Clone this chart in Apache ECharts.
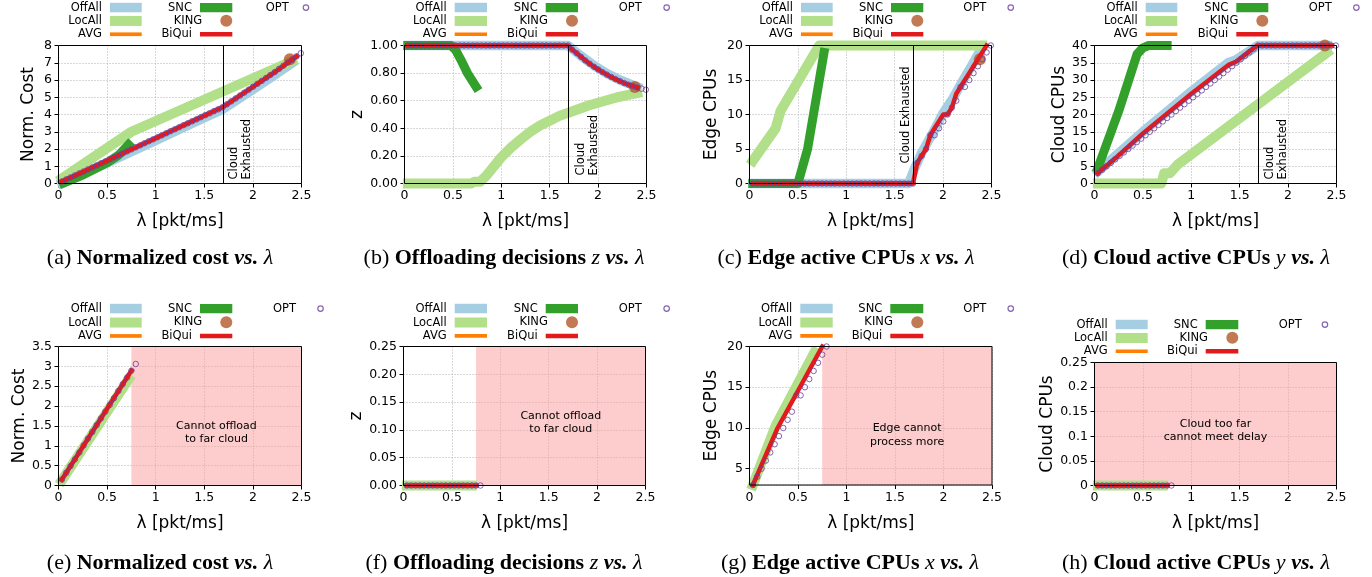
<!DOCTYPE html>
<html><head><meta charset="utf-8">
<script src="https://cdn.jsdelivr.net/npm/echarts@6/dist/echarts.min.js"></script>
<style>html,body{margin:0;padding:0;background:#fff}#c{width:1372px;height:577px}</style>
</head><body><div id="c"></div>
<script>
// ---------- data ----------
const lam = [0.035,0.080,0.124,0.169,0.214,0.259,0.303,0.348,0.393,0.437,
0.482,0.527,0.571,0.616,0.661,0.706,0.750,0.795,0.840,0.884,
0.929,0.974,1.018,1.063,1.108,1.152,1.197,1.242,1.287,1.331,
1.376,1.421,1.465,1.510,1.555,1.599,1.644,1.689,1.733,1.778,
1.823,1.868,1.912,1.957,2.002,2.046,2.091,2.136,2.180,2.225,
2.270,2.314,2.359,2.404,2.449,2.493];
const cloudExhausted = 1.689;

// (a) normalized cost
const a_opt = [0.12,0.24,0.35,0.47,0.59,0.70,0.82,0.93,1.05,1.17,1.28,1.40,1.51,1.63,1.75,1.86,1.98,2.10,2.21,2.33,
2.45,2.56,2.68,2.79,2.91,3.03,3.14,3.26,3.38,3.49,3.61,3.72,3.84,3.96,4.07,4.19,4.30,4.42,4.59,4.76,
4.93,5.10,5.27,5.44,5.61,5.78,5.95,6.12,6.29,6.46,6.65,6.83,7.01,7.19,7.37,7.55];
const a_biqui = [[0.035,0.12],[1.689,4.42],[2.225,6.46],[2.449,7.37]];
const a_offall = [[0.035,0.02],[0.5,1.2],[1.0,2.5],[1.5,3.82],[1.689,4.3],[2.0,5.45],[2.2,6.2],[2.404,6.98]];
const a_locall = [[0.035,0.3],[0.75,3.0],[2.404,7.1]];
const a_snc = [[0.05,0.02],[0.26,0.52],[0.5,1.2],[0.62,1.65],[0.72,2.25]];
const a_king = [[2.38,7.2]];

// (b) offloading decisions z
const b_opt = [1,1,1,1,1,1,1,1,1,1,1,1,1,1,1,1,1,1,1,1,1,1,1,1,1,1,1,1,1,1,1,1,1,1,1,1,1,1,
0.97,0.945,0.918,0.892,0.868,0.846,0.826,0.807,0.789,0.772,0.756,0.742,0.728,0.716,0.705,0.695,0.687,0.68];
const b_biqui = [[0.035,1],[1.689,1],[1.733,0.97],[1.778,0.945],[1.823,0.918],[1.868,0.892],[1.912,0.868],[1.957,0.846],
[2.002,0.826],[2.046,0.807],[2.091,0.789],[2.136,0.772],[2.18,0.756],[2.225,0.742],[2.27,0.728],[2.314,0.716],[2.359,0.705],[2.404,0.695]];
const b_offall = [[0.035,1],[1.689,1],[1.823,0.925],[1.957,0.855],[2.091,0.797],[2.225,0.75],[2.404,0.70]];
const b_locall = [[0.035,0],[0.69,0],[0.72,0.012],[0.78,0.012],[0.85,0.06],[0.93,0.13],[1.0,0.19],[1.1,0.26],[1.2,0.32],
[1.3,0.375],[1.4,0.42],[1.5,0.455],[1.6,0.49],[1.7,0.515],[1.8,0.54],[1.9,0.565],[2.0,0.585],[2.1,0.605],[2.2,0.625],[2.3,0.64],[2.404,0.655]];
const b_snc = [[0.035,1],[0.48,1],[0.53,0.965],[0.58,0.9],[0.65,0.8],[0.74,0.7]];
const b_king = [[2.38,0.70]];

// (c) edge active CPUs x
const c_opt = [0,0,0,0,0,0,0,0,0,0,0,0,0,0,0,0,0,0,0,0,0,0,0,0,0,0,0,0,0,0,0,0,0,0,0,0,0,0,
3,4,5,7,7,8,9,10,11,12,14,14,15,16,17,18,19,20];
const c_biqui = [[0.035,0],[1.689,0],[1.733,3],[1.778,4],[1.823,5],[1.868,7],[1.912,8],[1.957,9],[2.002,10],[2.046,10],
[2.091,11],[2.136,13],[2.18,14],[2.225,15],[2.27,16],[2.314,17],[2.359,18],[2.404,19],[2.449,20]];
const c_offall = [[0.035,0],[1.644,0],[1.70,2],[1.78,4.5],[1.9,7.5],[2.0,10.2],[2.1,12.3],[2.2,14.8],[2.3,17.2],[2.404,19.8]];
const c_locall = [[0.035,3.3],[0.27,8.0],[0.32,10.5],[0.72,20],[2.404,20]];
const c_snc = [[0.035,0],[0.5,0],[0.6,5],[0.77,19]];
const c_king = [[2.38,18]];

// (d) cloud active CPUs y
const d_opt = [3,4,5,6,7,8,9,10,11,12,13,14,15,16,17,18,19,20,21,22,23,24,25,26,27,28,29,30,31,32,33,34,35,36,37,38,39,40,
40,40,40,40,40,40,40,40,40,40,40,40,40,40,40,40,40,40];
const d_biqui = [[0.035,3],[0.214,7.3],[0.5,14.5],[1.0,26],[1.38,34.3],[1.46,35.3],[1.66,39.6],[1.689,40],[2.449,40]];
const d_offall = [[0.035,3.5],[0.5,15],[1.0,26.7],[1.38,35],[1.46,35.8],[1.689,40],[2.404,40]];
const d_locall = [[0.035,0],[0.69,0],[0.72,3],[0.78,3],[0.86,5.5],[2.404,38]];
const d_snc = [[0.035,4.5],[0.25,21],[0.44,37.5],[0.5,39.3],[0.56,40],[0.75,40]];
const d_king = [[2.38,40]];

// (e) normalized cost, far cloud
const e_opt = [0.15,0.32,0.49,0.66,0.83,1.01,1.18,1.35,1.52,1.69,1.86,2.03,2.20,2.38,2.55,2.72,2.89,3.06];
const e_biqui = [[0.035,0.15],[0.75,2.89]];
const e_locall = [[0.035,0.13],[0.72,2.67]];

// (f) z, far cloud
const f_opt = [0,0,0,0,0,0,0,0,0,0,0,0,0,0,0,0,0,0];
const f_biqui = [[0.035,0],[0.75,0]];
const f_locall = [[0.035,0],[0.706,0]];

// (g) edge CPUs, far cloud
const g_opt = [3,4,5,6,7,8,9,10,11,12,14,14,15,16,17,18,19,20];
const g_biqui = [[0.035,3],[0.29,10],[0.75,20]];
const g_locall = [[0.035,3],[0.27,10.3],[0.67,19.3]];

// (h) cloud CPUs, far cloud
const h_opt = [0,0,0,0,0,0,0,0,0,0,0,0,0,0,0,0,0,0];
const h_biqui = [[0.035,0],[0.75,0]];
const h_locall = [[0.035,0],[0.706,0]];

const seriesNames = ['OffAll','LocAll','AVG','SNC','KING','BiQui','OPT'];

// ---------- styling ----------
const FONT = 'DejaVu Sans';
const COL = {OffAll:'#a6cee3', LocAll:'#b2df8a', AVG:'#ff7f00', SNC:'#33a02c', KING:'#b15928', BiQui:'#e31a1c', OPT:'#6a3d9a'};
const LW = {OffAll:9.5, LocAll:10, AVG:3.5, SNC:9, BiQui:4.5};
const ZS = {OffAll:2, LocAll:2, AVG:2, SNC:2, KING:3, BiQui:4, OPT:5};

const panels = [
 {grid:{left:58.5,top:45.5,width:243,height:138}, y:{min:0,max:8,interval:1}, yname:'Norm. Cost', ygap:21,
  d:{offall:a_offall, locall:a_locall, snc:a_snc, king:a_king, biqui:a_biqui, opt:a_opt},
  vline:{pos:'insideStartBottom', text:'Cloud\nExhausted', dist:[4,5]},
  leg:{rows:[7.3,20.7,34], c1:[110,141.7], c2:[200,232.3], o:[282.7,300]},
  cap:{x:160,y:258,l:'(a)',t:'Normalized cost ',v:''}},
 {grid:{left:404.5,top:45.5,width:242,height:138}, y:{min:0,max:1,interval:0.2,fmt:2}, yname:'z', ygap:34.5,
  d:{offall:b_offall, locall:b_locall, snc:b_snc, king:b_king, biqui:b_biqui, opt:b_opt},
  vline:{pos:'insideStartBottom', text:'Cloud\nExhausted', dist:[8,6]},
  leg:{rows:[7.3,20.7,34], c1:[454.7,487], c2:[545.7,578], o:[628,653]},
  cap:{x:504,y:258,l:'(b)',t:'Offloading decisions ',v:'z'}},
 {grid:{left:749.5,top:45.5,width:242,height:138}, y:{min:0,max:20,interval:5}, yname:'Edge CPUs', ygap:29.5,
  d:{offall:c_offall, locall:c_locall, snc:c_snc, king:c_king, biqui:c_biqui, opt:c_opt},
  vline:{pos:'insideStartTop', text:'Cloud Exhausted', dist:[20,1]},
  leg:{rows:[7.3,20.7,34], c1:[801,832.7], c2:[891,923.3], o:[973.3,997.7]},
  cap:{x:846,y:258,l:'(c)',t:'Edge active CPUs ',v:'x'}},
 {grid:{left:1094.5,top:45.5,width:242,height:138}, y:{min:0,max:40,interval:5}, yname:'Cloud CPUs', ygap:26.5,
  d:{offall:d_offall, locall:d_locall, snc:d_snc, king:d_king, biqui:d_biqui, opt:d_opt},
  vline:{pos:'insideStartBottom', text:'Cloud\nExhausted', dist:[4,5.5]},
  leg:{rows:[7.3,20.7,34], c1:[1145.7,1177.3], c2:[1236.3,1268.3], o:[1318.3,1343]},
  cap:{x:1196,y:258,l:'(d)',t:'Cloud active CPUs ',v:'y'}},
 {grid:{left:58.5,top:346.5,width:243,height:139}, y:{min:0,max:3.5,interval:0.5}, yname:'Norm. Cost', ygap:29.5,
  d:{locall:e_locall, biqui:e_biqui, opt:e_opt},
  area:{from:0.75, text:'Cannot offload\nto far cloud', pos:['50%','62%']},
  leg:{rows:[308.3,322.3,335.7], c1:[110,141.7], c2:[200,232.3], o:[282.7,307.3]},
  cap:{x:160,y:563,l:'(e)',t:'Normalized cost ',v:''}},
 {grid:{left:403.5,top:346.5,width:242,height:139}, y:{min:0,max:0.25,interval:0.05,fmt:2}, yname:'z', ygap:34.5,
  d:{locall:f_locall, biqui:f_biqui, opt:f_opt},
  area:{from:0.75, text:'Cannot offload\nto far cloud', pos:['50%','55%']},
  leg:{rows:[308.3,322.3,335.7], c1:[454.7,487], c2:[545.7,578], o:[628,653]},
  cap:{x:504,y:563,l:'(f)',t:'Offloading decisions ',v:'z'}},
 {grid:{left:749.5,top:346.5,width:242.5,height:138.5}, y:{min:3,max:20,splitNumber:4,hideMin:true}, yname:'Edge CPUs', ygap:29.5,
  d:{locall:g_locall, biqui:g_biqui, opt:g_opt},
  area:{from:0.75, text:'Edge cannot\nprocess more', pos:['50%','64%']},
  leg:{rows:[308.3,322.3,335.7], c1:[800.3,832.7], c2:[890.3,923.3], o:[973.3,997.7]},
  cap:{x:850,y:563,l:'(g)',t:'Edge active CPUs ',v:'x'}},
 {grid:{left:1094.5,top:362.5,width:242,height:123}, y:{min:0,max:0.25,interval:0.05}, yname:'Cloud CPUs', ygap:35,
  d:{locall:h_locall, biqui:h_biqui, opt:h_opt},
  area:{from:0, text:'Cloud too far\ncannot meet delay', pos:['50%','55.5%']},
  leg:{rows:[324.3,337.7,351], c1:[1115.7,1147.7], c2:[1205.7,1238.3], o:[1289.7,1313]},
  cap:{x:1196,y:563,l:'(h)',t:'Cloud active CPUs ',v:'y'}}
];

const grids=[], xAxes=[], yAxes=[], series=[], legends=[], graphics=[];
const W = 1372;

panels.forEach((p, gi) => {
  grids.push(Object.assign({show:true, borderColor:'#000', borderWidth:1, backgroundColor:'rgba(0,0,0,0)', z:10, containLabel:false}, p.grid));
  const split = {show:true, lineStyle:{color:'#b0b0b0', width:1, type:[1,2]}};
  xAxes.push({type:'value', gridIndex:gi, min:0, max:2.5, interval:0.5,
    axisLine:{show:false}, axisTick:{show:true, length:4, lineStyle:{color:'#000'}},
    axisLabel:{margin:6, fontSize:12.5, fontFamily:FONT, color:'#000'},
    splitLine:split, name:'λ [pkt/ms]', nameLocation:'middle', nameGap:30,
    nameTextStyle:{fontSize:17, fontFamily:FONT, color:'#000'}});
  const ya = {type:'value', gridIndex:gi, min:p.y.min, max:p.y.max,
    axisLine:{show:false}, axisTick:{show:true, length:4, lineStyle:{color:'#000'}},
    axisLabel:{margin:6.5, fontSize:12.5, fontFamily:FONT, color:'#000'},
    splitLine:split, name:p.yname, nameLocation:'middle', nameGap:p.ygap, nameRotate:90,
    nameTextStyle:{fontSize:17, fontFamily:FONT, color:'#000'}};
  if (p.y.interval) ya.interval = p.y.interval;
  if (p.y.splitNumber) ya.splitNumber = p.y.splitNumber;
  if (p.y.fmt) ya.axisLabel.formatter = v => v.toFixed(p.y.fmt);
  if (p.y.hideMin) ya.axisLabel.showMinLabel = false;
  yAxes.push(ya);

  const L = (name, data) => series.push({type:'line', name, xAxisIndex:gi, yAxisIndex:gi, data:data||[], z:ZS[name],
    symbol:'none', showSymbol:false, clip:false, silent:true, animation:false,
    lineStyle:{color:COL[name], width:LW[name], cap:'square', join:'round'},
    itemStyle:{color:COL[name]}, emphasis:{disabled:true}});
  L('OffAll', p.d.offall); L('LocAll', p.d.locall); L('AVG', p.d.avg); L('SNC', p.d.snc);
  series.push({type:'scatter', name:'KING', xAxisIndex:gi, yAxisIndex:gi, data:p.d.king||[], symbol:'circle', z:ZS.KING,
    symbolSize:12, clip:false, silent:true, animation:false, itemStyle:{color:COL.KING}, emphasis:{disabled:true}});
  L('BiQui', p.d.biqui);
  const opt = {type:'scatter', name:'OPT', xAxisIndex:gi, yAxisIndex:gi, z:ZS.OPT,
    data:p.d.opt.map((v,i)=>[lam[i], v]), symbol:'circle', symbolSize:5.5, clip:false, silent:true, animation:false,
    itemStyle:{color:'rgba(0,0,0,0)', borderColor:COL.OPT, borderWidth:1}, emphasis:{disabled:true}};
  if (p.vline) opt.markLine = {silent:true, symbol:['none','none'], animation:false, emphasis:{disabled:true},
    lineStyle:{color:'#000', width:1, type:'solid'},
    label:{show:true, position:p.vline.pos, formatter:p.vline.text, fontSize:11.5, fontFamily:FONT, color:'#000',
      lineHeight:13, distance:p.vline.dist},
    data:[{xAxis:cloudExhausted}]};
  if (p.area) opt.markArea = {silent:true, animation:false, z:1, itemStyle:{color:'rgba(251,154,153,0.5)'}, emphasis:{disabled:true},
    label:{show:true, position:p.area.pos, align:'center', verticalAlign:'middle', formatter:p.area.text,
      fontSize:11, fontFamily:FONT, color:'#000', lineHeight:13.3},
    data:[[{xAxis:p.area.from},{xAxis:2.5}]]};
  series.push(opt);

  // legends (one per item, text left of handle)
  const lg = p.leg;
  const items = [
    ['OffAll',0,0,'rect',9.5], ['LocAll',0,1,'rect',10], ['AVG',0,2,'rect',3.7],
    ['SNC',1,0,'rect',9.3], ['KING',1,1,'circle',12], ['BiQui',1,2,'rect',4.5], ['OPT',2,0,'circle',5.5]];
  items.forEach(([name, col, row, icon, h]) => {
    let Lx, R;
    if (col === 0) { Lx = lg.c1[0]; R = lg.c1[1]; }
    else if (col === 1) { Lx = lg.c2[0]; R = lg.c2[1]; }
    else { Lx = lg.o[0] + 8; R = Lx + 2*(lg.o[1]-Lx); }
    const itemStyle = name === 'OPT'
      ? {color:'rgba(0,0,0,0)', borderColor:COL.OPT, borderWidth:1.2}
      : {color:COL[name], borderWidth:0};
    legends.push({show:true, orient:'horizontal', align:'right', padding:0, itemGap:0, selectedMode:false,
      symbolKeepAspect:true, right: W - R, top: lg.rows[row] - Math.max(h, 11.5)/2,
      itemWidth: R - Lx, itemHeight: h,
      textStyle:{fontSize:11.5, fontFamily:FONT, color:'#000', padding:[0,3,0,0]},
      data:[{name, icon, itemStyle}]});
  });

  // sub-caption
  const c = p.cap;
  let txt = '{r|' + c.l + ' }{b|' + c.t + '}';
  if (c.v) txt += '{m|' + c.v + '}{b| }';
  txt += '{i|vs.}{b| }{m|λ}';
  graphics.push({type:'text', x:c.x, y:c.y, silent:true, style:{text:txt, align:'center', verticalAlign:'middle',
    fill:'#000', fontSize:22, fontFamily:'Liberation Serif',
    rich:{r:{fontSize:22, fontFamily:'Liberation Serif', fill:'#000'},
          b:{fontSize:22, fontFamily:'Liberation Serif', fontWeight:'bold', fill:'#000'},
          i:{fontSize:22, fontFamily:'Liberation Serif', fontWeight:'bold', fontStyle:'italic', fill:'#000'},
          m:{fontSize:22, fontFamily:'Liberation Serif', fontStyle:'italic', fill:'#000'}}}});
});

const chart = echarts.init(document.getElementById('c'), null, {renderer:'canvas'});
chart.setOption({animation:false, backgroundColor:'#fff', grid:grids, xAxis:xAxes, yAxis:yAxes,
  legend:legends, series, graphic:graphics, tooltip:{show:false}});
</script></body></html>
